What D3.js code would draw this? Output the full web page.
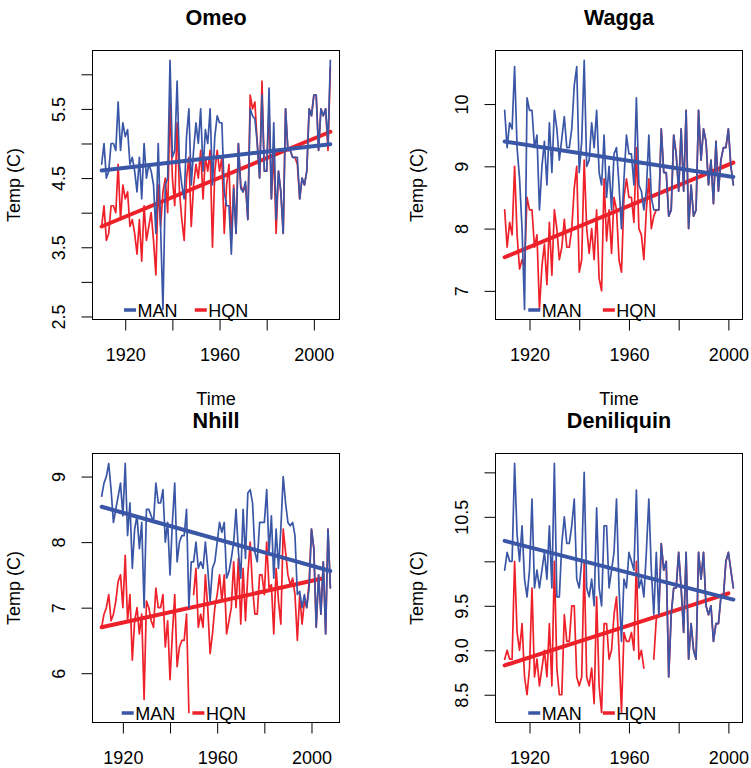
<!DOCTYPE html>
<html>
<head>
<meta charset="utf-8">
<script src="https://cdn.jsdelivr.net/npm/d3@7"></script>
<style>
  html, body { margin: 0; padding: 0; background: #ffffff; }
  svg { display: block; }
</style>
</head>
<body>
<svg id="chart" width="751" height="768"></svg>
<script>
// ---------------- DATA ----------------
const seriesNames = ["MAN", "HQN"];
const xTicks = [1920, 1940, 1960, 1980, 2000];
const xTickLabels = ["1920", "", "1960", "", "2000"];

// Omeo
const omeoYears = [1910, 2007];
const omeoMAN = [
  4.7, 5.0, 4.5, 4.6, 5.0, 5.0, 4.9, 5.6, 4.9, 5.3,
  5.1, 5.2, 4.7, 4.8, 4.6, 4.3, 4.8, 4.2, 5.0, 4.5,
  4.7, 4.6, 4.4, 3.7, 5.0, 3.8, 2.6, 4.4, 4.5, 6.2,
  4.8, 4.9, 5.9, 4.7, 4.4, 4.2, 5.1, 5.5, 4.4, 4.9,
  5.3, 5.0, 5.5, 4.6, 5.2, 5.0, 5.5, 4.4, 5.1, 5.4,
  5.3, 5.3, 4.3, 4.1, 4.1, 3.4, 4.35, 3.7, 5.0, 4.35,
  4.3, 4.45, 3.9, 5.5, 5.4, 5.35, 5.0, 4.5, 5.7, 4.6,
  4.6, 5.8, 4.2, 5.3, 3.9, 4.6, 4.3, 3.7, 5.5, 4.9,
  4.9, 4.8, 4.8, 4.8, 4.2, 4.5, 4.4, 4.6, 5.5, 5.4,
  5.7, 5.7, 4.9, 5.5, 5.4, 5.5, 5.0, 6.2
];
const omeoHQN = [
  3.8, 4.1, 3.6, 3.7, 4.1, 4.1, 4.0, 4.7, 3.9, 4.4,
  4.2, 4.3, 3.8, 3.9, 3.7, 3.4, 3.9, 3.3, 4.1, 3.6,
  3.8, 4.0, 3.6, 3.1, 4.4, 3.8, 4.3, 4.5, 4.0, 5.6,
  4.5, 4.1, 5.3, 4.3, 3.9, 3.6, 4.5, 4.8, 3.8, 4.4,
  4.7, 4.5, 4.9, 4.2, 4.8, 4.6, 4.9, 3.5, 4.6, 4.9,
  4.6, 4.8, 3.7, 4.4, 4.7, 3.6, 4.4, 3.7, 5.0, 4.4,
  4.3, 4.4, 3.9, 5.7, 5.5, 5.6, 5.0, 4.5, 5.9, 4.6,
  4.6, 5.5, 4.2, 4.9, 3.7, 4.6, 4.3, 3.7, 5.5, 4.9,
  4.9, 4.8, 4.8, 4.7, 4.2, 4.5, 4.4, 4.6, 5.5, 5.4,
  5.7, 5.7, 4.9, 5.5, 5.4, 5.5, 4.9, 6.1
];
const omeoTrendMAN = [[1910, 4.61], [2007, 4.99]];
const omeoTrendHQN = [[1910, 3.80], [2007, 5.17]];
const omeoYTicks = [2.5, 3.0, 3.5, 4.0, 4.5, 5.0, 5.5, 6.0];
const omeoYTickLabels = ["2.5", "", "3.5", "", "4.5", "", "5.5", ""];

// Wagga
const waggaYears = [1910, 2002];
const waggaMAN = [
  9.9, 9.3, 9.7, 9.6, 10.6, 9.3, 8.8, 8.0, 6.7, 10.1,
  9.9, 9.9, 9.3, 9.5, 8.3, 9.0, 9.4, 8.7, 9.7, 8.9,
  9.9, 9.6, 9.1, 9.45, 9.8, 9.3, 9.3, 9.6, 10.3, 10.6,
  8.9, 9.4, 10.7, 9.0, 9.1, 9.7, 9.3, 9.9, 8.9, 8.7,
  9.5, 8.5, 9.0, 8.3, 9.2, 9.3, 8.7, 8.0, 8.8, 9.5,
  9.2, 9.2, 8.7, 10.1, 8.7, 8.6, 8.3, 8.6, 9.5, 8.5,
  8.3, 8.3, 8.3, 9.6, 8.9, 8.9, 8.2, 8.3, 9.5, 9.2,
  8.6, 9.6, 8.6, 9.9, 8.0, 8.7, 8.2, 8.3, 9.9, 9.1,
  9.6, 9.4, 8.7, 9.1, 8.4, 9.4, 8.6, 9.1, 9.3, 9.3,
  9.6, 9.0, 8.7
];
const waggaHQN = [
  8.3, 7.7, 8.1, 7.9, 9.0, 7.9, 7.35, 7.5, 7.4, 8.5,
  8.3, 8.3, 7.7, 7.9, 6.7, 7.4, 7.75, 7.1, 8.1, 7.25,
  8.3, 8.0, 7.5, 7.7, 8.15, 7.7, 7.7, 8.0, 8.65, 9.0,
  7.3, 7.5, 9.1, 8.0, 7.6, 8.0, 7.5, 8.3, 7.2, 7.0,
  8.8, 7.8, 8.3, 7.6, 8.5, 8.3, 7.5, 7.3, 8.5, 8.8,
  8.5, 8.5, 8.1, 9.3, 8.0, 7.9, 7.5, 8.3, 8.8, 8.0,
  8.2, 8.3, 8.3, 9.6, 8.9, 8.9, 8.2, 8.3, 9.5, 9.2,
  8.6, 9.6, 8.6, 9.9, 8.0, 8.7, 8.2, 8.3, 9.9, 9.1,
  9.6, 9.4, 8.7, 9.1, 8.4, 9.4, 8.6, 9.1, 9.3, 9.3,
  9.6, 9.0, 8.7
];
const waggaTrendMAN = [[1910, 9.40], [2002, 8.83]];
const waggaTrendHQN = [[1910, 7.54], [2002, 9.06]];
const waggaYTicks = [7, 8, 9, 10];
const waggaYTickLabels = ["7", "8", "9", "10"];

// Nhill
const nhillYears = [1911, 2008];
const nhillMAN = [
  8.7, 8.9, 9.0, 9.2, 8.8, 8.3, 8.5, 8.7, 8.9, 8.4,
  9.2, 8.1, 8.6, 7.6, 8.2, 8.4, 7.9, 8.3, 7.0, 8.5,
  8.5, 8.4, 8.3, 8.9, 8.6, 8.6, 8.8, 8.0, 8.3, 7.5,
  8.3, 8.9, 7.7, 8.0, 8.1, 8.1, 8.5, 7.0, 7.7, 7.7,
  8.0, 7.6, 7.7, 7.6, 8.0, 7.6, 7.1, 7.6, 7.7, 8.0,
  8.3, 8.15, 8.3, 7.45, 7.55, 7.75, 8.0, 8.5, 7.85, 7.45,
  8.5, 7.75, 8.75, 8.8, 8.6, 7.85, 7.7, 8.3, 8.3, 8.3,
  8.8, 7.85, 8.4, 7.45, 8.2, 7.6, 8.2, 9.0, 8.6, 8.3,
  8.25, 8.3, 8.1, 7.2, 7.25, 7.0, 7.2, 7.0, 7.3, 8.2,
  7.9, 6.7, 7.5, 6.9, 7.7, 6.6, 8.2, 7.3
];
const nhillHQN = [
  6.7, 6.9, 7.0, 7.2, 6.8, 6.9, 7.1, 7.4, 7.5, 7.0,
  7.8, 6.8, 7.2, 6.2, 6.8, 7.0, 6.6, 6.9, 5.6, 7.1,
  7.0, 6.8, 6.7, 7.3, 7.0, 7.0, 7.2, 6.4, 6.8, 5.9,
  6.6, 7.2, 6.1, 6.4, 6.5, 6.5, 6.9, 5.4, null, 7.2,
  7.6, 6.7, 6.9, 6.7, 7.5, 7.0, 6.3, 6.6, 7.0, 7.2,
  7.5, 7.1, 7.5, 6.6, 6.8, 7.0, 7.7, 7.0, 7.75, 6.75,
  7.6, 6.8, 7.5, 8.0, 7.3, 6.9, 6.9, 7.5, 7.5, 7.2,
  8.0, 7.3, 7.35, 6.6, 7.6, 7.1, 6.75, 8.2, 7.85, 7.5,
  7.35, 7.45, 7.2, 6.5, 7.2, 6.75, 7.1, 7.0, 7.4, 8.2,
  7.9, 6.7, 7.5, 6.9, 7.7, 6.6, 8.2, 7.3
];
const nhillTrendMAN = [[1911, 8.54], [2008, 7.56]];
const nhillTrendHQN = [[1911, 6.70], [2004, 7.44]];
const nhillYTicks = [6, 7, 8, 9];
const nhillYTickLabels = ["6", "7", "8", "9"];

// Deniliquin
const deniYears = [1910, 2002];
const deniMAN = [
  9.9, 10.1, 10.0, 10.0, 11.1, 10.3, 10.0, 10.4, 9.8, 9.6,
  9.9, 10.7, 9.7, 9.9, 9.7, 9.9, 10.1, 9.8, 10.4, 9.7,
  11.1, 9.6, 9.6, 10.2, 10.5, 10.2, 10.2, 10.4, 10.7, 9.8,
  9.7, 10.0, 11.0, 9.7, 9.6, 9.8, 9.5, 10.6, 9.7, 9.5,
  10.4, 10.4, 9.7, 9.9, 10.1, 10.7, 9.7, 9.1, 9.8, 9.7,
  10.1, 10.0, 9.9, 10.8, 9.7, 9.8, 9.6, 10.1, 10.7, 9.9,
  9.4, 10.1, 9.4, 10.2, 9.9, 10.0, 8.7, 9.4, 9.7, 9.7,
  10.1, 9.7, 9.2, 10.1, 8.9, 9.3, 9.0, 8.9, 10.1, 9.8,
  10.1, 9.5, 9.4, 9.5, 9.1, 9.3, 9.3, 9.6, 9.6, 10.0,
  10.1, 9.9, 9.7
];
const deniHQN = [
  8.9, 9.0, 8.9, 8.9, 10.0, 9.2, 9.0, 9.3, 8.7, 8.5,
  8.8, 9.7, 8.7, 8.9, 8.6, 8.8, 9.0, 8.7, 9.3, 8.6,
  10.0, 8.8, 8.5, 8.5, 9.4, 9.1, 9.1, 9.5, 9.5, 8.7,
  8.6, 8.7, 10.0, 8.7, 8.6, 8.8, 8.4, 9.6, 8.6, 8.3,
  9.3, 9.3, 8.9, 9.0, 9.4, 9.6, 9.0, 8.3, 9.2, 9.1,
  9.1, 9.2, 9.0, 10.0, 8.9, 9.0, 8.8, null, null, null,
  8.9, 9.35, 9.4, 10.2, 9.9, 10.0, 8.7, 9.4, 9.7, 9.7,
  10.1, 9.7, 9.2, 10.1, 8.9, 9.3, 9.0, 8.9, 10.1, 9.8,
  10.1, 9.5, 9.4, 9.5, 9.1, 9.3, 9.3, 9.6, 9.6, 10.0,
  10.1, 9.9, 9.7
];
const deniTrendMAN = [[1910, 10.23], [2002, 9.57]];
const deniTrendHQN = [[1910, 8.83], [2000, 9.64]];
const deniYTicks = [8.5, 9.0, 9.5, 10.0, 10.5, 11.0];
const deniYTickLabels = ["8.5", "9.0", "9.5", "", "10.5", ""];

// ---------------- LAYOUT / STYLE ----------------
const FONT = "'Liberation Sans', Arial, Helvetica, sans-serif";
const BLUE = "#3A56A6";
const RED = "#EE2029";
const legendAnchorYears = [1919.5, 1949.5];

const panels = [
  { title: "Omeo", years: omeoYears, man: omeoMAN, hqn: omeoHQN, tMAN: omeoTrendMAN, tHQN: omeoTrendHQN,
    yTicks: omeoYTicks, yLabels: omeoYTickLabels, box: [92.5, 50.5, 339.5, 319.5], showTime: true },
  { title: "Wagga", years: waggaYears, man: waggaMAN, hqn: waggaHQN, tMAN: waggaTrendMAN, tHQN: waggaTrendHQN,
    yTicks: waggaYTicks, yLabels: waggaYTickLabels, box: [495.5, 50.5, 742.5, 319.5], showTime: true },
  { title: "Nhill", years: nhillYears, man: nhillMAN, hqn: nhillHQN, tMAN: nhillTrendMAN, tHQN: nhillTrendHQN,
    yTicks: nhillYTicks, yLabels: nhillYTickLabels, box: [92.5, 453.5, 339.5, 722.5], showTime: false },
  { title: "Deniliquin", years: deniYears, man: deniMAN, hqn: deniHQN, tMAN: deniTrendMAN, tHQN: deniTrendHQN,
    yTicks: deniYTicks, yLabels: deniYTickLabels, box: [495.5, 453.5, 742.5, 722.5], showTime: false }
];

const svg = d3.select("#chart");
svg.append("rect").attr("width", 751).attr("height", 768).attr("fill", "#ffffff");

panels.forEach((p, pi) => {
  const [bx0, by0, bx1, by1] = p.box;
  const yrs = d3.range(p.years[0], p.years[1] + 1);
  const xr = p.years[1] - p.years[0];
  const x = d3.scaleLinear()
    .domain([p.years[0] - 0.04 * xr, p.years[1] + 0.04 * xr])
    .range([bx0, bx1]);
  const vals = p.man.concat(p.hqn).filter(v => v != null);
  const [lo, hi] = d3.extent(vals);
  const vr = hi - lo;
  const y = d3.scaleLinear()
    .domain([lo - 0.04 * vr, hi + 0.04 * vr])
    .range([by1, by0]);

  const g = svg.append("g").attr("class", "panel-" + pi);

  const clipId = "clip" + pi;
  g.append("clipPath").attr("id", clipId)
    .append("rect").attr("x", bx0).attr("y", by0).attr("width", bx1 - bx0).attr("height", by1 - by0);

  const plot = g.append("g").attr("clip-path", `url(#${clipId})`);

  const line = d3.line()
    .defined(d => d.v != null)
    .x(d => x(d.year))
    .y(d => y(d.v));

  const manData = yrs.map((yr, i) => ({ year: yr, v: p.man[i] }));
  const hqnData = yrs.map((yr, i) => ({ year: yr, v: p.hqn[i] }));
  const trendLine = d3.line().x(d => x(d[0])).y(d => y(d[1]));

  // HQN series + trend
  plot.append("path").datum(hqnData).attr("d", line)
    .attr("fill", "none").attr("stroke", RED).attr("stroke-width", 1.7)
    .attr("stroke-linejoin", "round").attr("stroke-linecap", "round");
  plot.append("path").datum(p.tHQN).attr("d", trendLine)
    .attr("fill", "none").attr("stroke", RED).attr("stroke-width", 4)
    .attr("stroke-linecap", "round");

  // MAN series + trend
  plot.append("path").datum(manData).attr("d", line)
    .attr("fill", "none").attr("stroke", BLUE).attr("stroke-width", 1.7)
    .attr("stroke-linejoin", "round").attr("stroke-linecap", "round");
  plot.append("path").datum(p.tMAN).attr("d", trendLine)
    .attr("fill", "none").attr("stroke", BLUE).attr("stroke-width", 4)
    .attr("stroke-linecap", "round");

  // Box
  g.append("rect").attr("x", bx0).attr("y", by0)
    .attr("width", bx1 - bx0).attr("height", by1 - by0)
    .attr("fill", "none").attr("stroke", "#000").attr("stroke-width", 1);

  // X axis
  const xa = g.append("g").attr("transform", `translate(0,${by1})`)
    .call(d3.axisBottom(x).tickValues(xTicks).tickFormat((d, i) => xTickLabels[i])
      .tickSize(11).tickSizeOuter(0));
  xa.select(".domain").remove();
  xa.attr("font-size", 18).attr("font-family", FONT);
  xa.selectAll(".tick line").attr("stroke", "#000");
  xa.selectAll(".tick text").attr("y", 41).attr("dy", null).attr("fill", "#000");

  // Y axis
  const ya = g.append("g").attr("transform", `translate(${bx0},0)`)
    .call(d3.axisLeft(y).tickValues(p.yTicks).tickFormat((d, i) => p.yLabels[i])
      .tickSize(11).tickSizeOuter(0));
  ya.select(".domain").remove();
  ya.attr("font-size", 18).attr("font-family", FONT);
  ya.selectAll(".tick line").attr("stroke", "#000");
  ya.selectAll(".tick text")
    .attr("x", null).attr("dy", null)
    .attr("transform", "translate(-27.5,0) rotate(-90)")
    .attr("text-anchor", "middle")
    .attr("fill", "#000");

  // Title
  g.append("text").attr("x", (bx0 + bx1) / 2).attr("y", by0 - 25.3)
    .attr("text-anchor", "middle").attr("font-family", FONT)
    .attr("font-size", 21.6).attr("font-weight", "bold").attr("fill", "#000")
    .text(p.title);

  // Y label
  g.append("text")
    .attr("transform", `translate(${bx0 - 72.4},${(by0 + by1) / 2}) rotate(-90)`)
    .attr("text-anchor", "middle").attr("font-family", FONT)
    .attr("font-size", 18).attr("fill", "#000")
    .text("Temp (C)");

  // X label
  if (p.showTime) {
    g.append("text").attr("x", (bx0 + bx1) / 2).attr("y", by1 + 85)
      .attr("text-anchor", "middle").attr("font-family", FONT)
      .attr("font-size", 18).attr("fill", "#000")
      .text("Time");
  }

  // Legend
  const colors = [BLUE, RED];
  seriesNames.forEach((name, i) => {
    const lx = x(legendAnchorYears[i]);
    g.append("line")
      .attr("x1", lx).attr("x2", lx + 12)
      .attr("y1", by1 - 9.5).attr("y2", by1 - 9.5)
      .attr("stroke", colors[i]).attr("stroke-width", 3.5);
    g.append("text")
      .attr("x", lx + 13.5).attr("y", by1 - 3)
      .attr("font-family", FONT).attr("font-size", 18).attr("fill", "#000")
      .text(name);
  });
});
</script>
</body>
</html>
